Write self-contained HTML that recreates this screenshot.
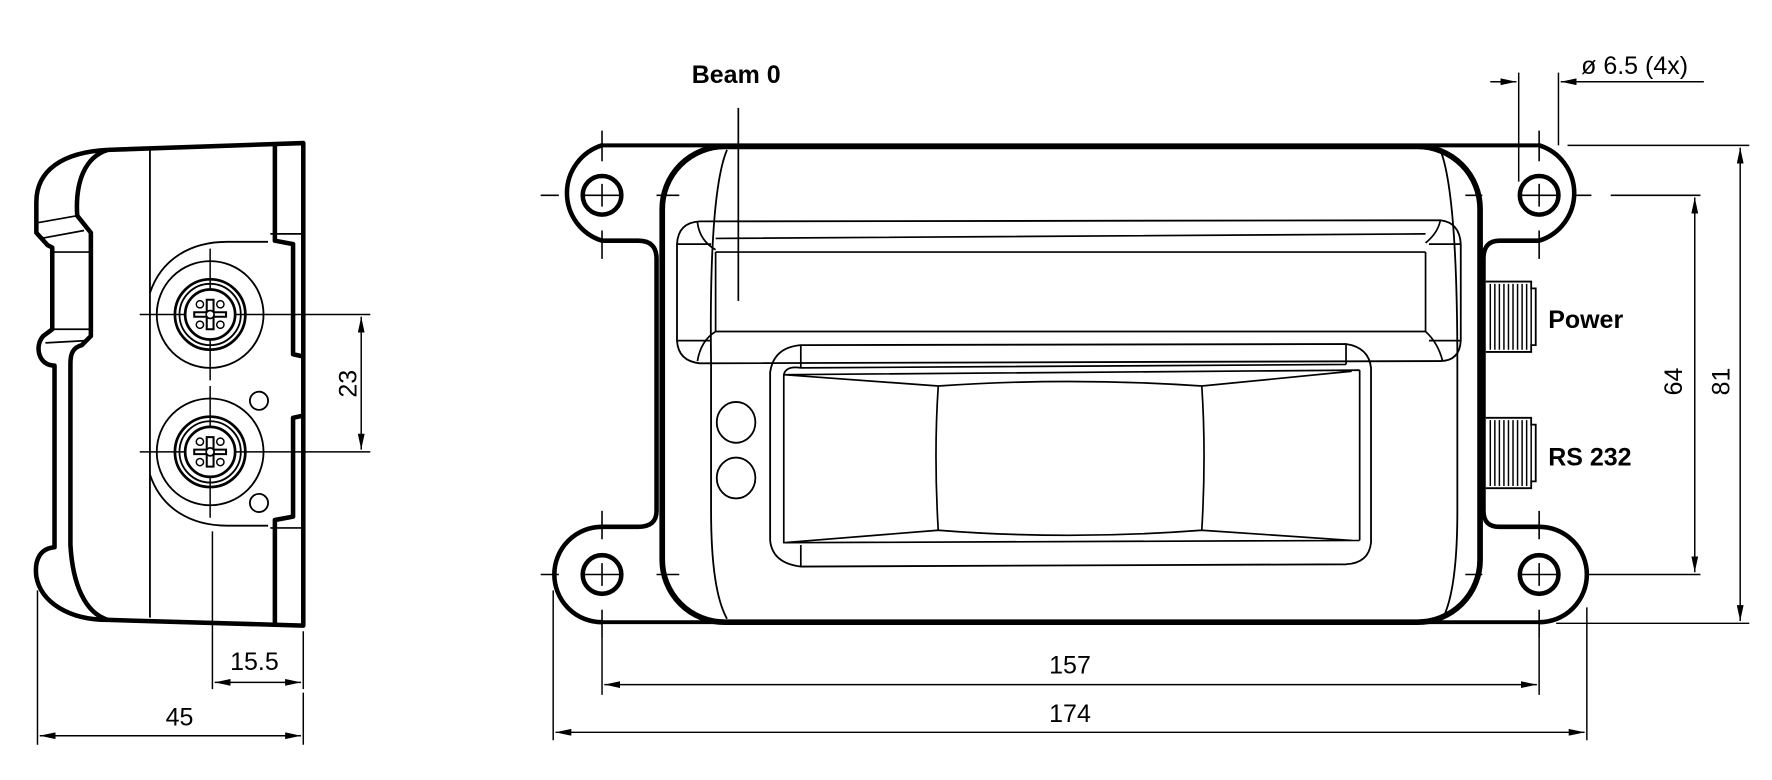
<!DOCTYPE html>
<html><head><meta charset="utf-8"><style>
html,body{margin:0;padding:0;background:#fff;}
svg{display:block;}
text{font-family:"Liberation Sans",Arial,sans-serif;fill:#000;}
</style></head><body>
<svg width="1772" height="780" viewBox="0 0 1560 687" preserveAspectRatio="none" xmlns="http://www.w3.org/2000/svg">
<defs>
<marker id="a" viewBox="0 0 14 6" refX="14" refY="3" markerWidth="14" markerHeight="6" markerUnits="userSpaceOnUse" orient="auto-start-reverse">
<path d="M0,0 L14,3 L0,6 z" fill="#000"/></marker>
<g id="conn">
<circle r="47" fill="none" stroke="#000" stroke-width="1.6"/>
<circle r="31" fill="none" stroke="#000" stroke-width="2.4"/>
<circle r="27" fill="none" stroke="#000" stroke-width="1.6"/>
<circle r="22" fill="none" stroke="#000" stroke-width="2.4"/>
<path d="M-14,-2 L-3,-2 L-3,-13 L3,-13 L3,-2 L14,-2 L14,2 L3,2 L3,13 L-3,13 L-3,2 L-14,2 z" fill="none" stroke="#000" stroke-width="1.8"/>
<circle r="3.5" fill="#fff" stroke="#000" stroke-width="1.5"/>
<circle cx="-9" cy="-9" r="3.2" fill="none" stroke="#000" stroke-width="1.3"/>
<circle cx="9" cy="-9" r="3.2" fill="none" stroke="#000" stroke-width="1.3"/>
<circle cx="-9" cy="9" r="3.2" fill="none" stroke="#000" stroke-width="1.3"/>
<circle cx="9" cy="9" r="3.2" fill="none" stroke="#000" stroke-width="1.3"/>
<path d="M-62,0 H-22 M22,0 H70 M0,-58 V-22 M0,22 V58" stroke="#000" stroke-width="1.3"/>
</g>
<g id="thread">
<path d="M0,0 H40 V6 H44 V56 H40 V62 H0" fill="none" stroke="#000" stroke-width="1.6"/>
<path d="M4,2 V60 M8,2 V60 M12,2 V60 M16,2 V60 M20,2 V60 M24,2 V60 M28,2 V60 M32,2 V60 M36,2 V60 M40,6 V56" stroke="#000" stroke-width="1.3"/>
</g>
</defs>

<g fill="none" stroke="#000" stroke-linejoin="round">
<path d="M95,132 L267,126 L267,551 L95,546" stroke-width="4"/>
<path d="M95,132 C55,134 32,150 32,178 L32,205 L42,216 L46,218 L46,290 L38,296 C30,305 34,322 48,322 L48,482 C36,483 30,492 32,508 C36,530 60,546 95,546" stroke-width="4"/>
<path d="M95,132 C75,138 66,160 68,190 L80,205 L80,296 L72,304 C64,306 62,312 62,320 L62,480 C64,515 75,540 95,546" stroke-width="4"/>
<path d="M34,196 L68,190 M36,210 L74,203 M46,222 L80,222 M46,290 L80,290 M40,302 L76,300" stroke-width="1.5"/>
<path d="M132,130 V544" stroke-width="1.6"/>
<path d="M242,127 V212 L258,215 V312 L267,314 M267,366 L258,368 V455 L242,458 V549" stroke-width="4"/>
<path d="M238,206 H266 M238,465 H266" stroke-width="1.5"/>
<path d="M132,258 C142,228 168,213 200,213 L236,213 M132,418 C142,448 168,463 200,463 L236,463" stroke-width="1.6"/>
<circle cx="228" cy="353" r="8" stroke-width="1.6"/>
<circle cx="228" cy="443" r="8" stroke-width="1.6"/>
</g>
<use href="#conn" x="185" y="277"/>
<use href="#conn" x="185" y="398"/>
<g stroke="#000" stroke-width="1.3" fill="none">
<path d="M255,277 H326 M255,398 H326"/>
<path d="M318,279 V396" marker-start="url(#a)" marker-end="url(#a)"/>
<path d="M187,468 V607 M267,556 V607 M33,520 V656 M267,610 V656"/>
<path d="M189,601 H265" marker-start="url(#a)" marker-end="url(#a)"/>
<path d="M35,648 H265" marker-start="url(#a)" marker-end="url(#a)"/>
</g>
<text x="308" y="338" font-size="22" text-anchor="middle" transform="rotate(-90 308 338)" dominant-baseline="middle">23</text>
<text x="224" y="590" font-size="22" text-anchor="middle">15.5</text>
<text x="158" y="639" font-size="22" text-anchor="middle">45</text>

<g fill="none" stroke="#000" stroke-linejoin="round">
<path d="M530,128 A44,44 0 0 0 530,212 L562,212 Q578,212 578,228 L578,450 Q578,464 562,464 L530,464 A42,42 0 0 0 530,548" stroke-width="4"/>
<path d="M1355,128 A44,44 0 0 1 1355,212 L1320,212 Q1306,212 1306,228 L1306,450 Q1306,464 1320,464 L1355,464 A42,42 0 0 1 1355,548" stroke-width="4"/>
<path d="M530,128 H1355 M530,548 H1355" stroke-width="3.5"/>
<rect x="583" y="129" width="720" height="419" rx="55" stroke-width="5"/>
<circle cx="530" cy="172" r="17" stroke-width="4"/>
<circle cx="530" cy="506" r="17" stroke-width="4"/>
<circle cx="1355" cy="172" r="17" stroke-width="4"/>
<circle cx="1355" cy="506" r="17" stroke-width="4"/>
<path d="M640,132 Q624,170 626,320 L626,450 Q626,520 640,545" stroke-width="1.6"/>
<path d="M1268,132 Q1283,170 1283,320 L1283,450 Q1283,520 1270,545" stroke-width="1.6"/>
<path d="M616,195 L1268,194 Q1285,196 1286,215 L1286,300 Q1285,318 1268,318 L616,320 Q597,318 596,300 L596,215 Q597,196 616,195 z" stroke-width="1.6"/>
<path d="M614,196 Q616,212 630,220 M1268,194 Q1266,205 1255,214 M630,210 L1255,206 M630,222 H1255 M630,222 V292 M1255,222 V292 M630,292 H1255 M630,292 Q617,300 614,318 M1255,292 Q1266,302 1270,318 M596,215 H626 M596,300 H626 M1258,215 H1286 M1258,300 H1286" stroke-width="1.5"/>
<path d="M705,304 L1185,303 Q1205,306 1207,324 L1207,478 Q1205,496 1185,497 L705,499 Q680,496 678,476 L678,328 Q681,306 705,304 z" stroke-width="1.6"/>
<path d="M705,304 V324 M705,480 V499 M705,324 L1185,321 M1185,303 V321 M690,330 L1197,326 M690,330 V478 L1197,476 M1197,326 V476 M690,330 L826,340 Q940,332 1058,340 L1190,327 M826,340 Q822,400 826,467 M1058,340 Q1062,400 1058,467 M690,478 L826,467 Q940,476 1058,467 L1190,476 M705,324 Q692,322 690,330" stroke-width="1.5"/>
<ellipse cx="648" cy="372" rx="17" ry="18" stroke-width="1.6"/>
<ellipse cx="648" cy="421" rx="17" ry="18" stroke-width="1.6"/>
<path d="M650,95 V265" stroke-width="1.5"/>
<path d="M476,172 H492 M512,172 H548 M578,172 H598 M530,115 V142 M530,162 V182 M530,203 V228
         M476,506 H492 M512,506 H548 M578,506 H598 M530,450 V475 M530,496 V516 M530,537 V562
         M1290,172 H1305 M1337,172 H1373 M1386,172 H1401 M1418,172 H1497 M1355,115 V142 M1355,162 V182 M1355,203 V228
         M1290,506 H1305 M1337,506 H1373 M1395,506 H1497 M1355,450 V475 M1355,496 V516 M1355,537 V562" stroke-width="1.4"/>
</g>
<use href="#thread" x="1308" y="248"/>
<use href="#thread" x="1308" y="368"/>
<g stroke="#000" stroke-width="1.3" fill="none">
<path d="M1337,64 V160 M1372,64 V128"/>
<path d="M1312,72 H1335" marker-end="url(#a)"/>
<path d="M1500,72 H1374" marker-end="url(#a)"/>
<path d="M1380,128 H1540 M1370,549 H1540"/>
<path d="M1492,174 V504" marker-start="url(#a)" marker-end="url(#a)"/>
<path d="M1532,130 V547" marker-start="url(#a)" marker-end="url(#a)"/>
<path d="M530,562 V612 M1355,562 V612 M487,520 V652 M1397,535 V652"/>
<path d="M532,603 H1353" marker-start="url(#a)" marker-end="url(#a)"/>
<path d="M489,645 H1395" marker-start="url(#a)" marker-end="url(#a)"/>
</g>
<text x="609" y="73" font-size="22" font-weight="bold">Beam 0</text>
<text x="1363" y="289" font-size="22" font-weight="bold">Power</text>
<text x="1363" y="410" font-size="22" font-weight="bold">RS 232</text>
<text x="1392" y="65" font-size="22">ø 6.5 (4x)</text>
<text x="1475" y="336" font-size="22" text-anchor="middle" transform="rotate(-90 1475 336)" dominant-baseline="middle">64</text>
<text x="1517" y="336" font-size="22" text-anchor="middle" transform="rotate(-90 1517 336)" dominant-baseline="middle">81</text>
<text x="942" y="593" font-size="22" text-anchor="middle">157</text>
<text x="942" y="636" font-size="22" text-anchor="middle">174</text>
</svg>
</body></html>
